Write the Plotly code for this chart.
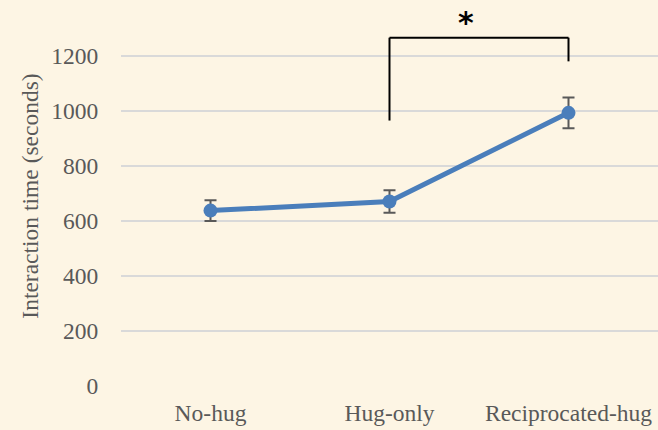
import plotly.graph_objects as go

categories = ["No-hug", "Hug-only", "Reciprocated-hug"]
means = [637, 670, 992]
errors = [38, 41, 56]
y_ticks = [0, 200, 400, 600, 800, 1000, 1200]
y_title = "Interaction time (seconds)"
# significance bracket: between Hug-only and Reciprocated-hug
bracket_top = 1265
bracket_left_bottom = 964
bracket_right_bottom = 1179
sig_label = "*"

BG = "#FDF5E4"
BLUE = "#4A7EBB"
GREY = "#595959"
FONT = "Liberation Serif, Times New Roman, serif"

fig = go.Figure()
fig.add_trace(go.Scatter(
    x=categories, y=means,
    mode="lines+markers",
    line=dict(color=BLUE, width=5),
    marker=dict(color=BLUE, size=14),
    error_y=dict(type="data", array=errors, visible=True,
                 color=GREY, thickness=2, width=6),
    showlegend=False,
    hoverinfo="skip",
))

# bracket
fig.add_shape(type="line", xref="x", yref="y",
              x0=categories[1], x1=categories[1], y0=bracket_left_bottom, y1=bracket_top,
              line=dict(color="black", width=2))
fig.add_shape(type="line", xref="x", yref="y",
              x0=categories[1], x1=categories[2], y0=bracket_top, y1=bracket_top,
              line=dict(color="black", width=2))
fig.add_shape(type="line", xref="x", yref="y",
              x0=categories[2], x1=categories[2], y0=bracket_right_bottom, y1=bracket_top,
              line=dict(color="black", width=2))
fig.add_annotation(x=1.43, y=bracket_top, xref="x", yref="y", text="<b>" + sig_label + "</b>",
                   showarrow=False, yanchor="bottom", yshift=-4,
                   font=dict(family="DejaVu Sans, sans-serif", size=30, color="black"))

fig.update_layout(
    width=658, height=430,
    margin=dict(l=121, r=0, t=6, b=43.5),
    paper_bgcolor=BG, plot_bgcolor=BG,
    font=dict(family=FONT, size=23.5, color=GREY),
    xaxis=dict(
        type="category", range=[-0.5, 2.5],
        showgrid=False, zeroline=False, showline=False,
        ticks="outside", ticklen=6, tickcolor="rgba(0,0,0,0)",
        tickfont=dict(family=FONT, size=23.5, color=GREY),
    ),
    yaxis=dict(
        range=[0, 1380], tickvals=y_ticks,
        showgrid=True, gridcolor="#D9D9D9", gridwidth=1.5,
        zeroline=False, showline=False,
        ticks="outside", ticklen=17, tickcolor="rgba(0,0,0,0)",
        tickfont=dict(family=FONT, size=23.5, color=GREY),
        title=dict(text=y_title, standoff=6,
                   font=dict(family=FONT, size=23.5, color=GREY)),
    ),
)

fig.write_html("out.html", config={"displayModeBar": False},
               post_script="document.body.style.margin='0';document.body.style.background='" + BG + "';")
